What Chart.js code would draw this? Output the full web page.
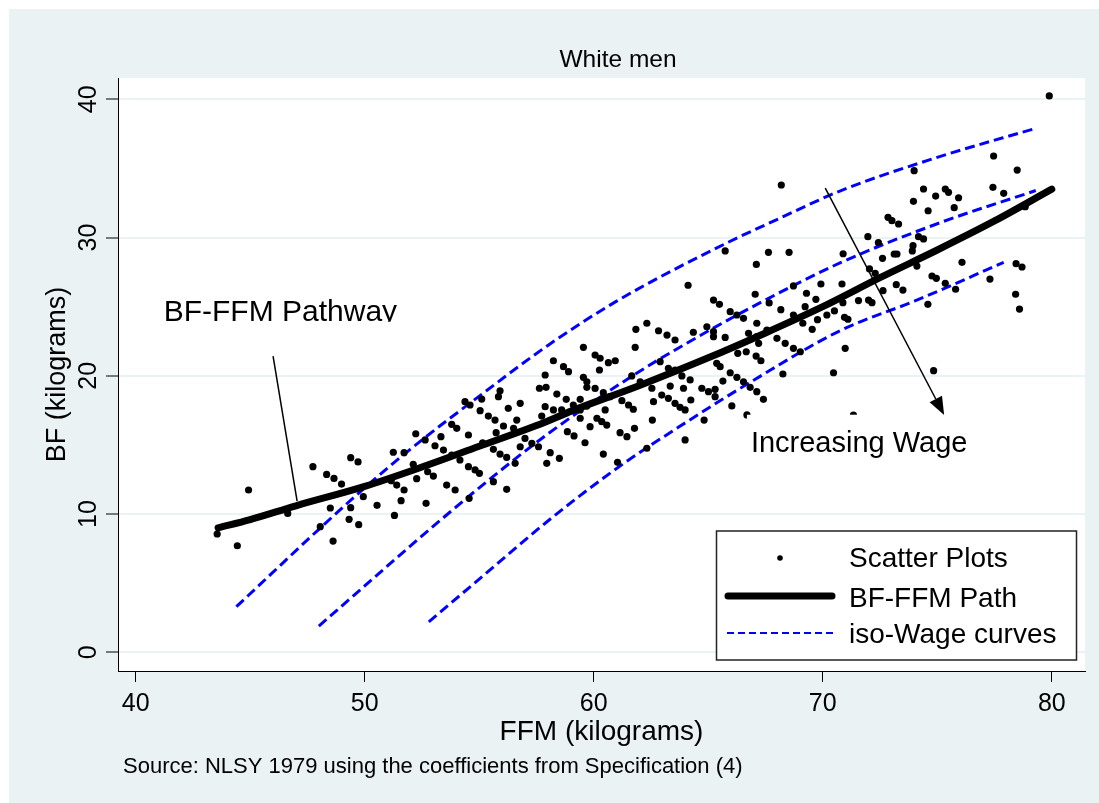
<!DOCTYPE html>
<html>
<head>
<meta charset="utf-8">
<script src="https://cdn.jsdelivr.net/npm/chart.js@4.4.1/dist/chart.umd.min.js"></script>
<style>
  html, body { margin: 0; padding: 0; background: #fff; }
</style>
</head>
<body>
<canvas id="chart" width="1099" height="803"></canvas>
<script>
// values, FFM (x) and BF (y) in kilograms
const scatterPoints = [
  [43.56, 8.56], [44.44, 7.71], [44.93, 11.74], [46.64, 10.05], [47.74, 13.43], [48.34, 12.87], [48.66, 12.58],
  [48.99, 12.17], [48.50, 10.44], [48.06, 9.09], [48.62, 8.05], [49.39, 14.08], [49.71, 13.77], [49.39, 10.46],
  [49.32, 9.62], [49.74, 9.23], [49.94, 11.26], [50.54, 10.63], [51.30, 9.90], [51.25, 14.47], [51.72, 14.44],
  [51.16, 12.41], [51.59, 10.97], [51.40, 12.10], [51.72, 11.74], [52.12, 13.60], [52.23, 15.81], [52.27, 12.56],
  [52.64, 15.36], [52.68, 10.78], [52.75, 13.06], [53.00, 12.75], [53.07, 14.94], [53.33, 15.60], [53.58, 12.10],
  [53.95, 11.74], [53.44, 14.63], [53.80, 14.27], [54.16, 13.91], [53.80, 16.49], [54.02, 16.20], [54.53, 15.72],
  [54.56, 11.14], [54.53, 13.43], [54.82, 13.19], [55.01, 12.95], [54.38, 18.13], [54.60, 17.89], [55.11, 18.32],
  [55.04, 17.48], [55.40, 17.09], [55.15, 15.16],
  [55.91, 18.92], [55.84, 18.49], [55.69, 16.80], [56.06, 16.37], [56.64, 16.80], [56.27, 17.65], [56.79, 18.01],
  [56.50, 16.20], [55.74, 15.89], [56.79, 14.87], [55.62, 14.68], [55.91, 14.34], [56.20, 14.10], [56.57, 13.67],
  [55.62, 12.34], [56.20, 11.79], [57.00, 15.47], [57.30, 15.11], [57.59, 14.87], [57.95, 13.67], [58.10, 14.44],
  [58.50, 14.03], [57.88, 20.06], [57.63, 19.10], [57.92, 19.17], [57.73, 17.09], [57.88, 17.77], [58.24, 17.53],
  [58.24, 21.09], [58.68, 20.66], [58.90, 20.30], [58.60, 17.53], [58.39, 18.68], [58.80, 18.30], [59.11, 17.89],
  [59.41, 17.53], [58.85, 15.96], [59.14, 15.65], [59.62, 15.16], [59.55, 22.06], [59.55, 19.89], [59.70, 19.17],
  [59.41, 18.30], [59.70, 17.81], [59.41, 16.93], [59.84, 16.32], [60.06, 21.50], [60.28, 21.27], [60.25, 20.42],
  [60.64, 20.95], [60.94, 21.09], [59.70, 19.57], [60.06, 19.09], [60.42, 18.78], [60.71, 18.49], [60.14, 16.93],
  [60.35, 16.68], [60.57, 16.44], [60.50, 17.53], [60.42, 14.34], [61.15, 15.89], [61.45, 15.60], [61.23, 18.20],
  [61.52, 17.89], [61.73, 17.58], [61.04, 13.74], [61.78, 16.20], [61.84, 23.36], [62.32, 23.80], [61.81, 22.06],
  [61.66, 19.99], [62.03, 19.57], [62.32, 14.76], [62.56, 16.80], [62.61, 18.13], [62.54, 19.10], [62.90, 21.02],
  [63.26, 20.54], [63.55, 20.42], [62.83, 23.26], [63.20, 22.95], [63.55, 22.59], [62.97, 18.61], [63.26, 18.37],
  [63.55, 18.01], [63.77, 17.72], [63.99, 17.53], [63.34, 19.26], [63.92, 19.10], [63.85, 19.99], [64.21, 19.70],
  [64.24, 18.25], [63.99, 15.36], [64.35, 23.15], [64.82, 16.80], [64.72, 19.10], [65.01, 18.85], [65.30, 18.49],
  [64.94, 23.55], [65.23, 23.19], [65.23, 22.83], [65.37, 20.90], [65.52, 20.66], [65.30, 19.02], [65.74, 22.78],
  [65.64, 19.62], [65.96, 20.22], [66.25, 19.89], [66.54, 19.57], [66.83, 19.17], [67.12, 18.85], [65.96, 24.64],
  [66.25, 24.40], [66.54, 24.16], [66.03, 17.82], [66.29, 21.63], [66.66, 21.74], [66.69, 17.17], [66.76, 23.07],
  [67.12, 22.83], [67.12, 23.80], [67.56, 23.31], [68.00, 22.71], [68.36, 22.35], [68.72, 21.99], [67.09, 21.43],
  [67.30, 21.09], [67.41, 18.30], [67.20, 22.35], [68.26, 20.13], [69.02, 21.74], [68.72, 24.40], [70.47, 20.22],
  [70.18, 24.40],
  [68.19, 33.80], [65.74, 29.03], [67.63, 28.93], [68.53, 28.93], [67.10, 28.06], [64.12, 26.55], [67.05, 25.90],
  [65.23, 25.48], [65.49, 25.17], [67.66, 25.27], [68.72, 26.50], [69.29, 25.97], [69.70, 25.53], [69.92, 26.64],
  [68.17, 24.78], [69.23, 25.00], [70.51, 24.69], [69.77, 24.06], [69.54, 23.36], [69.13, 23.80],
  [79.89, 40.24], [77.46, 35.90], [78.49, 34.88], [73.99, 34.84], [74.40, 33.51], [75.35, 33.51], [75.49, 33.27],
  [74.93, 33.00], [75.93, 32.88], [77.43, 33.63], [77.90, 33.20], [73.96, 32.62], [74.60, 31.94], [75.74, 32.16],
  [78.84, 32.23], [72.85, 31.46], [73.02, 31.22], [73.31, 30.98], [71.97, 30.06], [72.43, 29.63], [74.18, 30.06],
  [74.40, 29.90], [73.94, 29.41], [73.91, 29.03], [70.89, 28.83], [72.61, 28.50], [73.12, 28.81], [73.24, 28.81],
  [76.08, 28.21], [74.11, 27.94], [72.04, 27.73], [72.29, 27.41], [78.44, 28.11], [78.70, 27.87], [74.77, 27.22],
  [74.96, 27.05], [75.35, 26.69], [77.30, 27.00], [70.84, 26.64], [73.21, 26.59], [73.50, 26.20], [72.63, 26.16],
  [75.80, 26.26], [78.42, 25.90], [78.59, 24.83], [71.56, 25.44], [72.00, 25.48], [72.15, 25.29], [74.59, 25.17],
  [70.88, 25.29], [70.95, 24.23], [71.10, 24.09], [70.98, 21.99], [74.84, 20.37], [71.34, 17.16]
];

const pathFFM = [43.6, 45, 47, 50, 52.5, 55, 57.5, 59.1, 62, 65, 67.5, 70, 72.5, 75, 77.5, 80];
const pathBF  = [9.0, 9.6, 10.6, 12.0, 13.4, 14.9, 16.4, 17.5, 19.3, 21.3, 23.1, 25.0, 27.1, 29.1, 31.2, 33.5];

const isoHighFFM = [44.4, 46, 48, 50, 52, 55.3, 58, 61, 65.8, 68, 70.8, 75, 79.3];
const isoHighBF  = [3.3, 5.8, 8.9, 11.9, 14.7, 18.9, 22.2, 25.4, 29.6, 31.3, 33.4, 35.8, 37.9];
const isoMidFFM  = [48, 50, 52, 55, 58, 61.6, 64, 67.4, 70.8, 75, 79.3];
const isoMidBF   = [1.9, 4.8, 7.7, 11.9, 15.8, 19.9, 22.3, 25.4, 28.2, 31.0, 33.4];
const isoLowFFM  = [52.8, 55.5, 58, 61, 64, 67, 70.8, 74, 77.9];
const isoLowBF   = [2.2, 6.0, 9.5, 13.3, 16.6, 19.7, 23.3, 25.4, 28.2];

const xTicks = [40, 50, 60, 70, 80];
const yTicks = [0, 10, 20, 30, 40];

const titleText = 'White men';
const xTitle = 'FFM (kilograms)';
const yTitle = 'BF (kilograms)';
const noteText = 'Source: NLSY 1979 using the coefficients from Specification (4)';
const legendLabels = ['Scatter Plots', 'BF-FFM Path', 'iso-Wage curves'];

// annotation anchors, in data units
const pathwayLabel = { text: 'BF-FFM Pathway', x: 46.32, y: 23.98 };
const pathwayPointer = [[46.0, 21.43], [47.05, 10.94]];
const wageLabel = { text: 'Increasing Wage', x: 71.59, y: 14.51 };
const wageArrow = [[70.11, 33.58], [75.3, 17.17]];

const FONT = '"Liberation Sans", Arial, Helvetica, sans-serif';
const BLUE = '#0000ff';
const GRAY = '#eaf2f3';

function pairs(xs, ys) {
  return xs.map((x, i) => ({ x: x, y: ys[i] }));
}

const bgPlugin = {
  id: 'bg',
  beforeDraw(chart) {
    const ctx = chart.ctx, a = chart.chartArea;
    ctx.save();
    ctx.fillStyle = '#ffffff';
    ctx.fillRect(0, 0, chart.width, chart.height);
    ctx.fillStyle = GRAY;
    ctx.fillRect(9, 9, chart.width - 9, chart.height - 9);
    ctx.fillStyle = '#ffffff';
    ctx.fillRect(a.left, a.top, a.right - a.left, a.bottom - a.top);
    ctx.restore();
  }
};

const textPlugin = {
  id: 'texts',
  afterDraw(chart) {
    const ctx = chart.ctx, a = chart.chartArea;
    const xs = chart.scales.x, ys = chart.scales.y;
    const px = v => xs.getPixelForValue(v);
    const py = v => ys.getPixelForValue(v);
    ctx.save();
    ctx.fillStyle = '#000';
    ctx.strokeStyle = '#000';
    ctx.textBaseline = 'alphabetic';

    // title
    ctx.font = '24.5px ' + FONT;
    ctx.textAlign = 'center';
    ctx.fillText(titleText, 618, 67);

    // y tick labels, rotated like the original
    yTicks.forEach(v => {
      ctx.save();
      ctx.translate(96, py(v));
      ctx.rotate(-Math.PI / 2);
      ctx.font = '25px ' + FONT;
      ctx.textAlign = 'center';
      ctx.fillText(String(v), 0, 0);
      ctx.restore();
    });

    // y axis title
    ctx.save();
    ctx.translate(65, (a.top + a.bottom) / 2);
    ctx.rotate(-Math.PI / 2);
    ctx.font = '27px ' + FONT;
    ctx.textAlign = 'center';
    ctx.fillText(yTitle, 0, 0);
    ctx.restore();

    // x axis title and note
    ctx.font = '28px ' + FONT;
    ctx.textAlign = 'center';
    ctx.fillText(xTitle, (a.left + a.right) / 2, 740);
    ctx.font = '22px ' + FONT;
    ctx.textAlign = 'left';
    ctx.fillText(noteText, 123, 773);

    // "Increasing Wage" label sits on a white box
    ctx.font = '29px ' + FONT;
    ctx.textAlign = 'center';
    const ww = ctx.measureText(wageLabel.text).width;
    ctx.fillStyle = '#ffffff';
    ctx.fillRect(px(wageLabel.x) - ww / 2 - 4, py(wageLabel.y) - 37, ww + 8, 52);
    ctx.fillStyle = '#000';
    ctx.fillText(wageLabel.text, px(wageLabel.x), py(wageLabel.y));

    // "BF-FFM Pathway" label, clipped at its baseline as in the original
    ctx.save();
    ctx.font = '30px ' + FONT;
    ctx.beginPath();
    ctx.rect(0, 0, chart.width, py(pathwayLabel.y) + 1);
    ctx.clip();
    ctx.fillText(pathwayLabel.text, px(pathwayLabel.x), py(pathwayLabel.y));
    ctx.restore();

    // pointer lines
    ctx.lineWidth = 1.5;
    ctx.beginPath();
    ctx.moveTo(px(pathwayPointer[0][0]), py(pathwayPointer[0][1]));
    ctx.lineTo(px(pathwayPointer[1][0]), py(pathwayPointer[1][1]));
    ctx.stroke();

    const x0 = px(wageArrow[0][0]), y0 = py(wageArrow[0][1]);
    const x1 = px(wageArrow[1][0]), y1 = py(wageArrow[1][1]);
    const ang = Math.atan2(y1 - y0, x1 - x0);
    const hl = 18, hw = 7;
    const bx = x1 - hl * Math.cos(ang), by = y1 - hl * Math.sin(ang);
    ctx.beginPath();
    ctx.moveTo(x0, y0);
    ctx.lineTo(bx, by);
    ctx.stroke();
    ctx.beginPath();
    ctx.moveTo(x1, y1);
    ctx.lineTo(bx + hw * Math.sin(ang), by - hw * Math.cos(ang));
    ctx.lineTo(bx - hw * Math.sin(ang), by + hw * Math.cos(ang));
    ctx.closePath();
    ctx.fill();

    // legend box
    const lx = 716.5, ly = 531, lw = 360, lh = 129;
    ctx.fillStyle = '#ffffff';
    ctx.fillRect(lx, ly, lw, lh);
    ctx.strokeStyle = '#222';
    ctx.lineWidth = 1.5;
    ctx.strokeRect(lx, ly, lw, lh);

    ctx.fillStyle = '#000';
    ctx.beginPath();
    ctx.arc(780, 558, 2.8, 0, Math.PI * 2);
    ctx.fill();

    ctx.strokeStyle = '#000';
    ctx.lineWidth = 7;
    ctx.lineCap = 'round';
    ctx.beginPath();
    ctx.moveTo(728, 596);
    ctx.lineTo(832, 596);
    ctx.stroke();

    ctx.strokeStyle = BLUE;
    ctx.lineWidth = 2;
    ctx.lineCap = 'butt';
    ctx.setLineDash([7, 4]);
    ctx.beginPath();
    ctx.moveTo(727, 633);
    ctx.lineTo(834, 633);
    ctx.stroke();
    ctx.setLineDash([]);

    ctx.font = '28px ' + FONT;
    ctx.textAlign = 'left';
    ctx.fillText(legendLabels[0], 849, 567);
    ctx.fillText(legendLabels[1], 849, 607);
    ctx.fillText(legendLabels[2], 849, 643);

    ctx.restore();
  }
};

const isoStyle = {
  showLine: true,
  borderColor: BLUE,
  borderWidth: 3,
  borderDash: [10, 5],
  pointRadius: 0,
  cubicInterpolationMode: 'monotone'
};

new Chart(document.getElementById('chart'), {
  type: 'scatter',
  data: {
    datasets: [
      {
        label: legendLabels[1],
        data: pairs(pathFFM, pathBF),
        showLine: true,
        borderColor: '#000',
        borderWidth: 7,
        borderCapStyle: 'round',
        pointRadius: 0,
        cubicInterpolationMode: 'monotone'
      },
      {
        label: legendLabels[0],
        data: scatterPoints.map(p => ({ x: p[0], y: p[1] })),
        backgroundColor: '#000',
        borderColor: '#000',
        pointRadius: 3.6,
        borderWidth: 0
      },
      Object.assign({ label: legendLabels[2], data: pairs(isoHighFFM, isoHighBF) }, isoStyle),
      Object.assign({ label: legendLabels[2], data: pairs(isoMidFFM, isoMidBF) }, isoStyle),
      Object.assign({ label: legendLabels[2], data: pairs(isoLowFFM, isoLowBF) }, isoStyle)
    ]
  },
  options: {
    responsive: false,
    animation: false,
    events: [],
    layout: { padding: { left: 0, top: 78, right: 14, bottom: 0 } },
    plugins: {
      legend: { display: false },
      tooltip: { enabled: false }
    },
    scales: {
      x: {
        type: 'linear',
        min: 39.23,
        max: 81.45,
        afterBuildTicks: s => { s.ticks = xTicks.map(v => ({ value: v })); },
        afterFit: s => { s.height = 132; },
        ticks: {
          color: '#000',
          padding: 7,
          maxRotation: 0,
          font: { family: FONT, size: 25 }
        },
        grid: {
          drawOnChartArea: false,
          drawTicks: true,
          tickLength: 11,
          tickColor: '#000',
          tickWidth: 1
        },
        border: { display: true, color: '#000', width: 1 }
      },
      y: {
        type: 'linear',
        min: -1.35,
        max: 41.54,
        afterBuildTicks: s => { s.ticks = yTicks.map(v => ({ value: v })); },
        afterFit: s => { s.width = 118; },
        ticks: {
          color: 'rgba(0,0,0,0)',
          font: { family: FONT, size: 25 }
        },
        grid: {
          color: GRAY,
          lineWidth: 2,
          drawTicks: true,
          tickLength: 12,
          tickColor: '#000',
          tickWidth: 1
        },
        border: { display: true, color: '#000', width: 1 }
      }
    }
  },
  plugins: [bgPlugin, textPlugin]
});
</script>
</body>
</html>
